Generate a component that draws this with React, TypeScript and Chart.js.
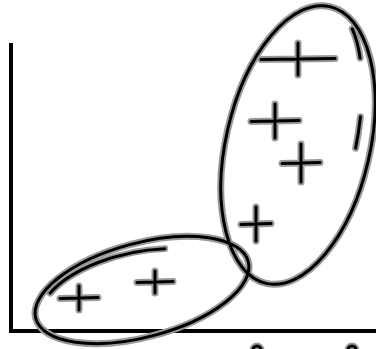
import React, { useEffect, useRef } from "react";
import { Chart, registerables } from "chart.js";

Chart.register(...registerables);

// Cross marks (data units: x from the vertical axis, y above the horizontal axis)
const crossX = [68, 144, 287, 264, 290, 245];
const crossY = [33, 49, 272, 210, 168, 107];

// Hand-drawn cluster rings: centre, radii (data units), tilt (deg), arc span (deg)
const ringCx = [287, 131, 129, 287, 287, 246, 341];
const ringCy = [186, 41, 31, 186, 186, -19, -19];
const ringRx = [72, 110, 102, 57, 57, 4, 4];
const ringRy = [142, 47, 48, 142, 142, 4, 4];
const ringTilt = [13, -15, -12, 13, 13, 0, 0];
const ringFrom = [0, 0, 212, 298, 343, 180, 180];
const ringTo = [360, 360, 290, 316, 356, 360, 360];

// Style only: half-lengths of the cross arms (px)
const armH = [19, 18, 37, 24, 19, 15];
const armV = [12, 11, 16, 17, 19, 17];

const HALO = "#9a9a9a";
const INK = "#000";
const HALO_W = 7;
const INK_W = 3;

function makeCross(h: number, v: number): HTMLCanvasElement {
  const pad = 5;
  const c = document.createElement("canvas");
  c.width = 2 * h + 2 * pad;
  c.height = 2 * v + 2 * pad;
  const g = c.getContext("2d")!;
  const cx = c.width / 2;
  const cy = c.height / 2;
  const stroke = (color: string, w: number) => {
    g.strokeStyle = color;
    g.lineWidth = w;
    g.lineCap = "round";
    g.beginPath();
    g.moveTo(cx - h, cy + 0.5);
    g.lineTo(cx + h, cy - 0.5);
    g.moveTo(cx, cy - v);
    g.lineTo(cx, cy + v);
    g.stroke();
  };
  stroke(HALO, HALO_W);
  stroke(INK, INK_W);
  return c;
}

const ringPlugin = {
  id: "rings",
  afterDraw(chart: any) {
    const { ctx } = chart;
    const xs = chart.scales.x;
    const ys = chart.scales.y;
    const paths = ringCx.map((_, i) => {
      const px = xs.getPixelForValue(ringCx[i]);
      const py = ys.getPixelForValue(ringCy[i]);
      const rx = Math.abs(xs.getPixelForValue(ringCx[i] + ringRx[i]) - px);
      const ry = Math.abs(ys.getPixelForValue(ringCy[i] + ringRy[i]) - py);
      return { px, py, rx, ry, rot: (ringTilt[i] * Math.PI) / 180, a0: (ringFrom[i] * Math.PI) / 180, a1: (ringTo[i] * Math.PI) / 180 };
    });
    ctx.save();
    ctx.lineCap = "round";
    for (const pass of [
      { color: HALO, w: HALO_W },
      { color: INK, w: INK_W },
    ]) {
      ctx.strokeStyle = pass.color;
      ctx.lineWidth = pass.w;
      for (const p of paths) {
        ctx.beginPath();
        ctx.ellipse(p.px, p.py, p.rx, p.ry, p.rot, p.a0, p.a1);
        ctx.stroke();
      }
    }
    ctx.restore();
  },
};

export default function App() {
  const ref = useRef<HTMLCanvasElement | null>(null);

  useEffect(() => {
    document.body.style.margin = "0";
    const canvas = ref.current!;
    const chart = new Chart(canvas, {
      type: "scatter",
      data: {
        datasets: [
          {
            data: crossX.map((x, i) => ({ x, y: crossY[i] })),
            pointStyle: crossX.map((_, i) => makeCross(armH[i], armV[i])),
            pointRadius: 10,
            pointHoverRadius: 10,
            clip: false,
            showLine: false,
          } as any,
        ],
      },
      options: {
        responsive: false,
        animation: false,
        events: [],
        layout: { autoPadding: false, padding: { left: 11, top: 45, right: 0, bottom: 18 } },
        plugins: { legend: { display: false }, tooltip: { enabled: false } },
        scales: {
          x: {
            type: "linear",
            min: 0,
            max: 365,
            grid: { display: false, drawTicks: false },
            ticks: { display: false },
            border: { display: true, color: INK, width: 4 },
          },
          y: {
            type: "linear",
            min: 0,
            max: 286,
            grid: { display: false, drawTicks: false },
            ticks: { display: false },
            border: { display: true, color: INK, width: 4 },
          },
        },
      },
      plugins: [ringPlugin],
    });
    return () => chart.destroy();
  }, []);

  return (
    <div style={{ position: "fixed", left: 0, top: 0, width: 376, height: 349, background: "#fff" }}>
      <canvas ref={ref} width={376} height={349} style={{ display: "block" }} />
    </div>
  );
}
